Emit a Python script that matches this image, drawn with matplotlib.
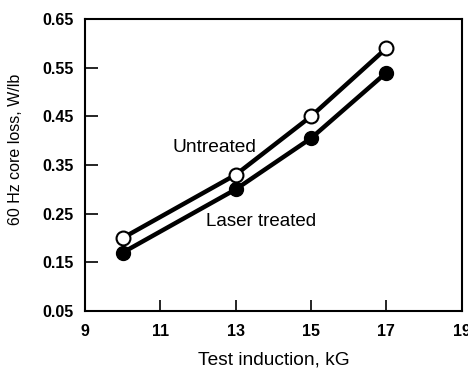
import matplotlib.pyplot as plt

plt.rcParams['font.family'] = ['Liberation Sans', 'DejaVu Sans']

induction = [10, 13, 15, 17]
untreated = [0.20, 0.33, 0.45, 0.59]
laser_treated = [0.17, 0.30, 0.405, 0.54]

x_ticks = [9, 11, 13, 15, 17, 19]
y_ticks = [0.05, 0.15, 0.25, 0.35, 0.45, 0.55, 0.65]

fig = plt.figure(figsize=(4.68, 3.71), dpi=100)
ax = fig.add_axes([0.1816, 0.1617, 0.805, 0.787])

ax.plot(induction, untreated, '-o', color='black', linewidth=3.2,
        markersize=10, markerfacecolor='white', markeredgecolor='black',
        markeredgewidth=1.5, zorder=3)
ax.plot(induction, laser_treated, '-o', color='black', linewidth=3.2,
        markersize=10, markerfacecolor='black', zorder=3)

ax.text(11.31, 0.387, 'Untreated', fontsize=13.8, va='center', ha='left')
ax.text(12.21, 0.233, 'Laser treated', fontsize=13.5, va='center', ha='left')

ax.set_xlim(9, 19)
ax.set_ylim(0.05, 0.65)
ax.set_xticks(x_ticks)
ax.set_yticks(y_ticks)
ax.set_xticklabels([str(v) for v in x_ticks], fontweight='bold')
ax.set_yticklabels(['%.2f' % v for v in y_ticks], fontweight='bold')
ax.tick_params(axis='both', direction='in', length=9, width=1.2,
               labelsize=11.5, pad=8)
ax.tick_params(axis='x', length=8, pad=9)

for s in ax.spines.values():
    s.set_linewidth(1.5)

ax.set_xlabel('Test induction, kG', fontsize=13.8, labelpad=9)
ax.set_ylabel('60 Hz core loss, W/lb', fontsize=11.5)
ax.yaxis.set_label_coords(-0.165, 0.555)

fig.savefig('out.png', dpi=100)
